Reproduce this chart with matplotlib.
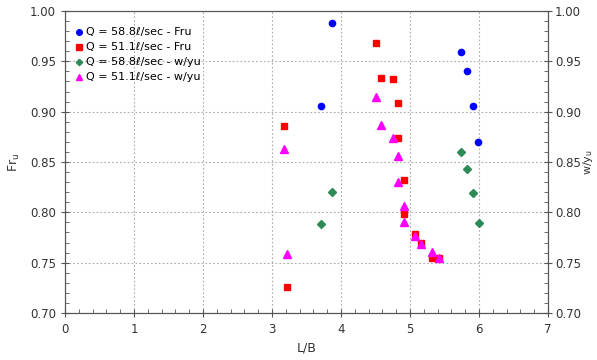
import numpy as np
import matplotlib.pyplot as plt
from matplotlib.ticker import MultipleLocator

# data
lb_fru_588 = [3.87, 3.71, 5.74, 5.83, 5.91, 5.99]
fru_588 = [0.988, 0.906, 0.959, 0.940, 0.906, 0.870]

lb_fru_511 = [4.50, 4.58, 4.75, 4.83, 4.83, 4.91, 4.91, 5.07, 5.16, 5.32, 5.42, 3.18, 3.22]
fru_511 = [0.968, 0.933, 0.932, 0.909, 0.874, 0.832, 0.798, 0.778, 0.770, 0.755, 0.755, 0.886, 0.726]

lb_wy_588 = [3.87, 3.71, 5.74, 5.83, 5.91, 6.00]
wy_588 = [0.820, 0.788, 0.860, 0.843, 0.819, 0.789]

lb_wy_511 = [4.50, 4.58, 4.75, 4.83, 4.83, 4.91, 4.91, 5.07, 5.16, 5.32, 5.42, 3.18, 3.22]
wy_511 = [0.915, 0.887, 0.874, 0.856, 0.830, 0.806, 0.790, 0.776, 0.769, 0.761, 0.755, 0.863, 0.759]

plt.rcParams['font.family'] = ['DejaVu Sans']

fig = plt.figure(figsize=(5.97, 3.6), dpi=100)
ax = fig.add_axes([0.1089, 0.1306, 0.8091, 0.8388])

ax.plot(lb_fru_588, fru_588, 'o', color='#0000ff', ms=4.5, label='Q = 58.8\u2113/sec - Fru')
ax.plot(lb_fru_511, fru_511, 's', color='#ff0000', ms=5, label='Q = 51.1\u2113/sec - Fru')
ax.plot(lb_wy_588, wy_588, 'D', color='#2e8b57', ms=3.6, label='Q = 58.8\u2113/sec - w/yu')
ax.plot(lb_wy_511, wy_511, '^', color='#ff00ff', ms=5.5, label='Q = 51.1\u2113/sec - w/yu')

ax.set_xlim(0, 7)
ax.set_ylim(0.70, 1.00)
ax.xaxis.set_major_locator(MultipleLocator(1))
ax.xaxis.set_minor_locator(MultipleLocator(0.2))
ax.yaxis.set_major_locator(MultipleLocator(0.05))
ax.yaxis.set_minor_locator(MultipleLocator(0.01))
ax.yaxis.set_major_formatter(lambda v, p: f'{v:.2f}')
ax.grid(True, which='major', linestyle=(0, (1.5, 2)), color='#aaaaaa', linewidth=0.8)

ax2 = ax.twinx()
ax2.set_ylim(0.70, 1.00)
ax2.yaxis.set_major_locator(MultipleLocator(0.05))
ax2.yaxis.set_minor_locator(MultipleLocator(0.01))
ax2.yaxis.set_major_formatter(lambda v, p: f'{v:.2f}')

for a in (ax, ax2):
    for s in a.spines.values():
        s.set_color('#555555')
    a.tick_params(which='major', direction='inout', length=6, color='#555555', labelsize=8.5, labelcolor='#333333')
    a.tick_params(which='minor', direction='in', length=3, color='#555555')
ax.tick_params(axis='x', pad=4)
ax2.tick_params(axis='y', pad=2)

ax.set_xlabel('L/B', fontsize=9, color='#333333', labelpad=4)
ax.set_ylabel('Fr$_\\mathregular{u}$', fontsize=9, color='#333333', labelpad=6)
ax2.set_ylabel('w/y$_\\mathregular{u}$', fontsize=8, color='#333333')
ax2.yaxis.label.set_va('center')
ax2.yaxis.set_label_coords(1.082, 0.5)

leg = ax.legend(loc='upper left', frameon=False, fontsize=8, handletextpad=0.1,
                handlelength=1.0, labelspacing=0.45, borderaxespad=0.4,
                bbox_to_anchor=(0.0, 0.975), markerscale=0.9)

fig.savefig('out.png', dpi=100)
